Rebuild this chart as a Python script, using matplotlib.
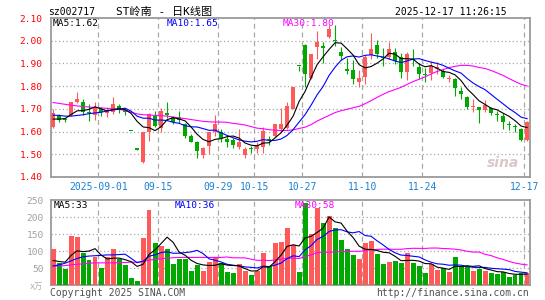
import numpy as np
import pandas as pd
import matplotlib
matplotlib.use("Agg")
import matplotlib.pyplot as plt

plt.rcParams['font.family'] = ['DejaVu Sans Mono', 'Noto Sans CJK SC']

# ---------------- data ----------------
opens = [1.620, 1.672, 1.652, 1.675, 1.730, 1.730, 1.685, 1.675, 1.700, 1.683,
         1.685, 1.713, 1.697, 1.603, 1.522, 1.465, 1.600, 1.670, 1.615, 1.682,
         1.662, 1.662, 1.632, 1.580, 1.556, 1.497, 1.535, 1.600, 1.600, 1.566,
         1.562, 1.532, 1.495, 1.526, 1.524, 1.532, 1.565, 1.580, 1.613, 1.615,
         1.700, 1.890, 1.980, 1.835, 1.972, 1.975, 2.015, 2.005, 1.952, 1.875,
         1.870, 1.820, 1.840, 1.937, 1.982, 1.930, 1.928, 1.952, 1.930, 1.864,
         1.920, 1.886, 1.855, 1.860, 1.877, 1.867, 1.832, 1.832, 1.777, 1.754,
         1.710, 1.706, 1.693, 1.703, 1.676, 1.670, 1.630, 1.622, 1.612, 1.565]
highs = [1.700, 1.676, 1.660, 1.730, 1.775, 1.745, 1.720, 1.730, 1.708, 1.710,
         1.752, 1.720, 1.700, 1.603, 1.522, 1.600, 1.680, 1.690, 1.703, 1.730,
         1.670, 1.690, 1.637, 1.590, 1.560, 1.534, 1.600, 1.673, 1.610, 1.580,
         1.570, 1.612, 1.530, 1.538, 1.556, 1.620, 1.580, 1.635, 1.705, 1.728,
         1.797, 1.890, 1.985, 1.940, 2.044, 1.995, 2.070, 2.070, 1.974, 1.925,
         1.915, 1.870, 1.935, 2.035, 2.004, 1.967, 1.995, 1.970, 1.945, 1.952,
         1.964, 1.900, 1.880, 1.910, 1.908, 1.875, 1.850, 1.835, 1.798, 1.757,
         1.745, 1.708, 1.740, 1.707, 1.690, 1.680, 1.646, 1.633, 1.615, 1.645]
lows = [1.615, 1.640, 1.640, 1.668, 1.725, 1.672, 1.647, 1.650, 1.668, 1.665,
        1.676, 1.680, 1.673, 1.603, 1.521, 1.460, 1.560, 1.620, 1.600, 1.660,
        1.635, 1.638, 1.570, 1.552, 1.483, 1.485, 1.500, 1.580, 1.555, 1.530,
        1.528, 1.522, 1.483, 1.505, 1.505, 1.505, 1.540, 1.575, 1.600, 1.612,
        1.700, 1.865, 1.798, 1.830, 1.920, 1.900, 2.010, 1.975, 1.913, 1.855,
        1.810, 1.797, 1.810, 1.920, 1.923, 1.890, 1.920, 1.897, 1.837, 1.828,
        1.890, 1.830, 1.820, 1.826, 1.853, 1.835, 1.820, 1.758, 1.744, 1.700,
        1.685, 1.637, 1.685, 1.673, 1.645, 1.612, 1.606, 1.600, 1.558, 1.558]
closes = [1.680, 1.652, 1.650, 1.730, 1.745, 1.685, 1.680, 1.705, 1.686, 1.697,
          1.720, 1.694, 1.687, 1.602, 1.521, 1.598, 1.677, 1.623, 1.690, 1.673,
          1.642, 1.650, 1.580, 1.556, 1.513, 1.527, 1.600, 1.633, 1.572, 1.556,
          1.541, 1.555, 1.524, 1.524, 1.541, 1.603, 1.562, 1.633, 1.635, 1.711,
          1.797, 1.888, 1.853, 1.940, 1.995, 1.970, 2.050, 2.000, 1.933, 1.868,
          1.833, 1.838, 1.930, 1.963, 1.942, 1.926, 1.963, 1.910, 1.864, 1.942,
          1.915, 1.855, 1.850, 1.890, 1.885, 1.842, 1.836, 1.794, 1.765, 1.706,
          1.714, 1.697, 1.715, 1.681, 1.672, 1.640, 1.628, 1.618, 1.563, 1.640]
volumes = [107, 66, 48, 145, 141, 95, 75, 83, 51, 83,
           107, 76, 60, 22, 13, 139, 222, 124, 116, 107,
           63, 78, 78, 42, 60, 42, 69, 82, 65, 39,
           36, 63, 42, 30, 42, 95, 57, 124, 127, 169,
           119, 39, 242, 151, 226, 183, 203, 170, 133, 107,
           89, 77, 124, 130, 92, 63, 69, 72, 66, 95,
           66, 57, 36, 63, 45, 51, 39, 83, 57, 57,
           42, 48, 42, 36, 33, 38, 25, 30, 36, 36]

# moving-average values before enough candles are on screen
ma5_head = [1.655, 1.655, 1.657, 1.675]
ma10_head = [1.672, 1.671, 1.668, 1.668, 1.671, 1.674, 1.679, 1.682, 1.685]
ma30_head = [1.728, 1.724, 1.720, 1.716, 1.713, 1.710, 1.708, 1.706, 1.704, 1.702,
             1.700, 1.697, 1.694, 1.685, 1.678, 1.674, 1.673, 1.671, 1.670, 1.668,
             1.664, 1.660, 1.657, 1.653, 1.649, 1.645, 1.643, 1.642, 1.642]
vma5_head = [73, 70, 68, 88]
vma10_head = [57, 60, 65, 72, 79, 84, 86, 87, 88]
vma30_head = [56, 57, 58, 60, 62, 63, 65, 66, 66, 66, 66, 67, 67, 68, 68, 70, 74,
              76, 78, 80, 81, 82, 82, 82, 82, 82, 82, 82, 82]

tick_labels = ['2025-09-01', '09-15', '09-29', '10-15', '10-27', '11-10', '11-24', '12-17']
tick_index = [8, 18, 28, 34, 42, 52, 62, 79]

price_ticks = [1.40, 1.50, 1.60, 1.70, 1.80, 1.90, 2.00, 2.10]
vol_ticks = [50, 100, 150, 200, 250]

title_code = 'sz002717'
title_name = 'ST岭南 - 日K线图'
title_time = '2025-12-17 11:26:15'
price_legend = ['MA5:1.62', 'MA10:1.65', 'MA30:1.80']
vol_legend = ['MA5:33', 'MA10:36', 'MA30:58']

# ---------------- helpers ----------------
def moving(vals, n, head):
    s = pd.Series(vals, dtype=float).rolling(n).mean().to_numpy()
    s[:n - 1] = head
    return s

RED = '#ff5a5a'
GREEN = '#00a800'
GRID = '#a8a8a8'
BORDER = '#9a9a9a'
DATEC = '#1a80d0'

o = np.array(opens); h = np.array(highs); l = np.array(lows); c = np.array(closes)
v = np.array(volumes, dtype=float)
x = np.arange(len(c))
up = c > o
cols = np.where(up, RED, GREEN)

W, H = 545, 300
fig = plt.figure(figsize=(W / 100, H / 100), dpi=100)
fig.patch.set_facecolor('white')

def frac(left, top, right, bottom):
    return [left / W, 1 - bottom / H, (right - left) / W, (bottom - top) / H]

ax = fig.add_axes(frac(51, 18, 529.5, 177))
ax2 = fig.add_axes(frac(51, 200.3, 529.5, 285.3))
xl = (-0.35, 79.4)

for a in (ax, ax2):
    a.set_xlim(*xl)
    a.set_facecolor('white')
    for s in a.spines.values():
        s.set_color(BORDER)
        s.set_linewidth(1.3)
    a.set_xticks([])
    a.tick_params(length=0)
    for ti in tick_index:
        a.axvline(ti - 0.45, color=GRID, lw=0.9, ls=(0, (4, 3)), zorder=1)

# price panel
ax.set_ylim(price_ticks[0], price_ticks[-1])
for p in price_ticks[1:-1]:
    ax.axhline(p, color=GRID, lw=0.9, ls=(0, (1, 2)), zorder=1)
ax.set_yticks(price_ticks)
ax.set_yticklabels(['%.2f' % p for p in price_ticks], color='#ff0000', fontsize=6.8)
ax.tick_params(axis='y', pad=6)

ax.vlines(x, l, h, colors=cols, lw=0.8, zorder=3)
body_bottom = np.minimum(o, c)
body_h = np.maximum(np.abs(c - o), 0.0045)
ax.bar(x, body_h, bottom=body_bottom, width=0.78, color=cols, lw=0, zorder=4)

ma5 = moving(c, 5, ma5_head)
ma10 = moving(c, 10, ma10_head)
ma30 = moving(c, 30, ma30_head)
ax.plot(x, ma30, color='#ff00ff', lw=0.8, zorder=5)
ax.plot(x, ma10, color='#0000ff', lw=0.8, zorder=5)
ax.plot(x, ma5, color='black', lw=0.8, zorder=5)

for txt, col, px in zip(price_legend, ['black', '#0000ff', '#ff00ff'], [53, 167, 283]):
    fig.text(px / W, 1 - 23 / H, txt, color=col, fontsize=6.8, va='center', ha='left')

# date labels
for ti, lab in zip(tick_index, tick_labels):
    ax.text(ti - 0.45, -0.06, lab, transform=ax.get_xaxis_transform(), color=DATEC,
            fontsize=7, ha='center', va='center')

# watermark
fig.text(503 / W, 1 - 163 / H, 'sina', color='#d0b0b0', fontsize=10, fontweight='bold',
         style='italic', ha='center', va='center', family='DejaVu Sans', alpha=0.7)

# volume panel
ax2.set_ylim(0, 250)
for vt in vol_ticks[:-1]:
    ax2.axhline(vt, color=GRID, lw=0.9, ls=(0, (1, 2)), zorder=1)
ax2.set_yticks(vol_ticks)
ax2.set_yticklabels([str(t) for t in vol_ticks], color='#a0a0a0', fontsize=6.8)
ax2.tick_params(axis='y', pad=5)
ax2.bar(x, v, width=0.8, color=cols, lw=0, zorder=3)
vma5 = moving(v, 5, vma5_head)
vma10 = moving(v, 10, vma10_head)
vma30 = moving(v, 30, vma30_head)
ax2.plot(x, vma30, color='#ff00ff', lw=0.8, zorder=5)
ax2.plot(x, vma10, color='#0000ff', lw=0.8, zorder=5)
ax2.plot(x, vma5, color='black', lw=0.8, zorder=5)
for txt, col, px in zip(vol_legend, ['black', '#0000ff', '#ff00ff'], [54, 175, 295]):
    fig.text(px / W, 1 - 206 / H, txt, color=col, fontsize=6.8, va='center', ha='left')
fig.text(43 / W, 1 - 286 / H, 'x万', color='#b0b0b0', fontsize=6, ha='right', va='center')

# titles and footer
fig.text(48 / W, 1 - 12 / H, title_code, color='black', fontsize=7, va='center', ha='left')
fig.text(116 / W, 1 - 12 / H, title_name, color='black', fontsize=8, va='center', ha='left')
fig.text(507 / W, 1 - 12 / H, title_time, color='black', fontsize=7, va='center', ha='right')
fig.text(50 / W, 1 - 292.5 / H, 'Copyright 2025 SINA.COM', color='#505050', fontsize=7,
         va='center', ha='left')
fig.text(529 / W, 1 - 292.5 / H, 'http://finance.sina.com.cn', color='#505050', fontsize=7,
         va='center', ha='right')

fig.savefig('out.png', dpi=100, facecolor='white')
